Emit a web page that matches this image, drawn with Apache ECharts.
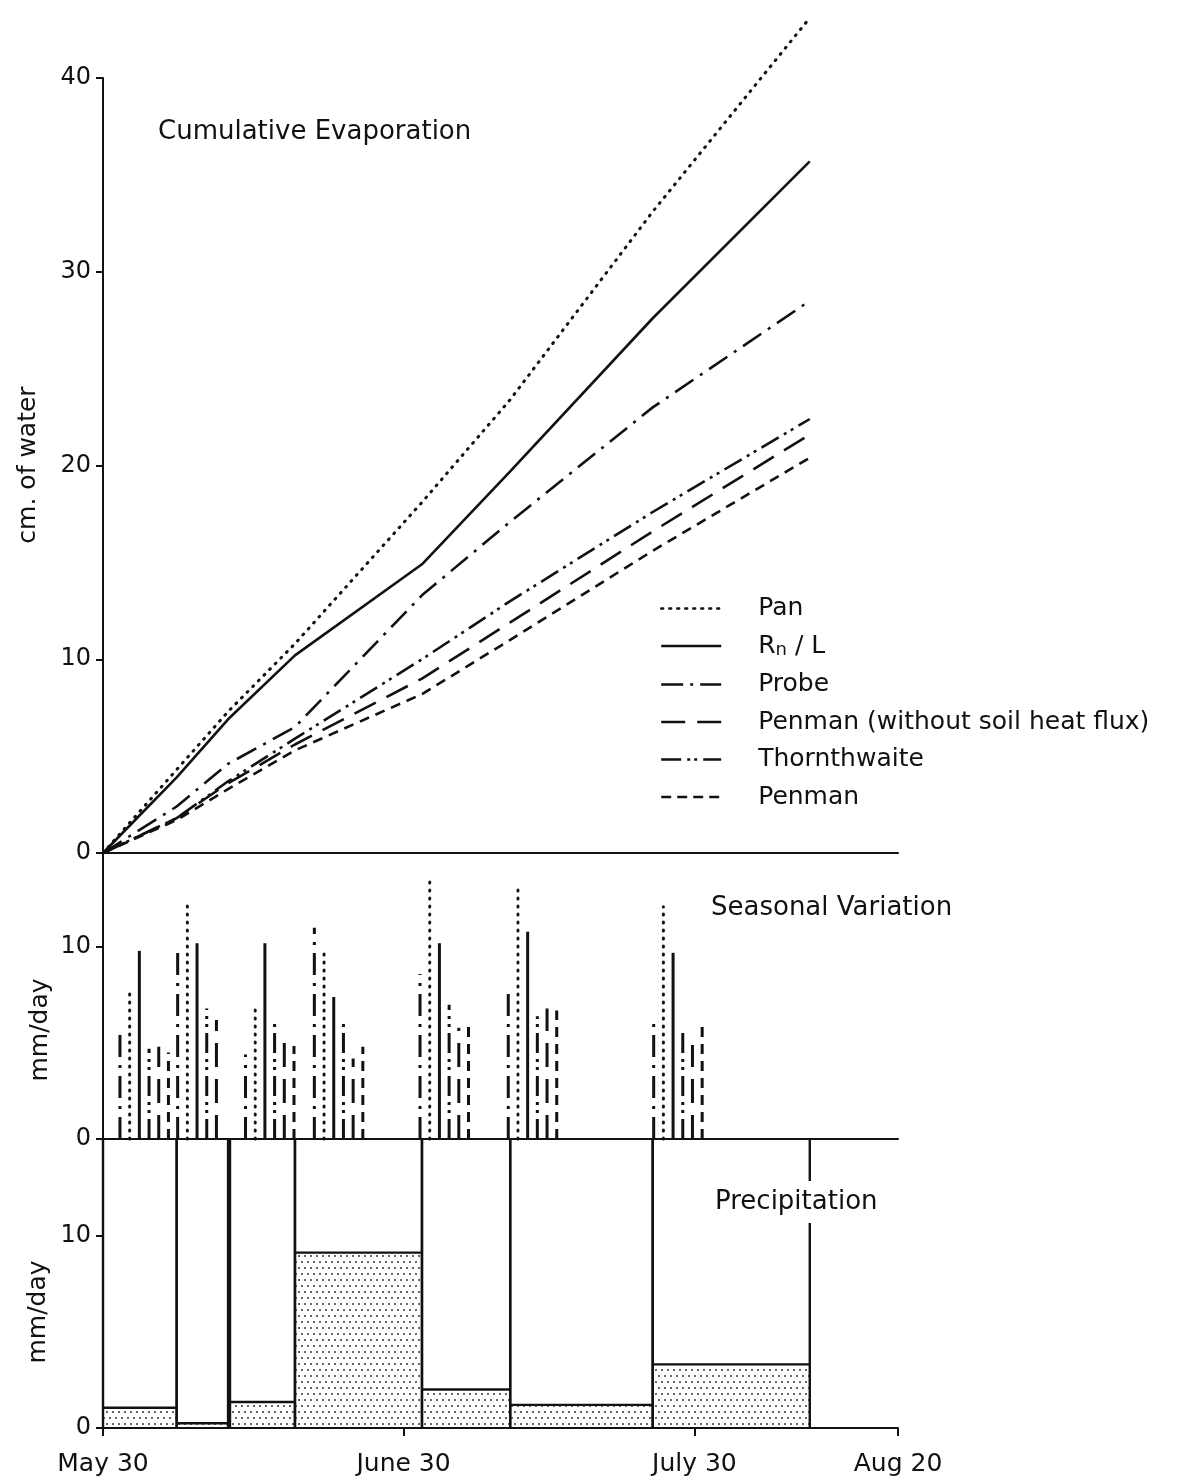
<!DOCTYPE html>
<html>
<head>
<meta charset="utf-8">
<title>Cumulative Evaporation</title>
<script src="https://cdn.jsdelivr.net/npm/echarts@6/dist/echarts.min.js"></script>
<style>
  html, body { margin: 0; padding: 0; background: #fff; }
  #chart { width: 1202px; height: 1482px; }
</style>
</head>
<body>
<div id="chart"></div>
<script>
// x is counted in days from May 30
const dateTicks = [0, 31, 61, 82]
const dateLabels = ['May 30', 'June 30', 'July 30', 'Aug 20']

// period boundaries (days)
const periodDays = [0, 7.6, 12.9, 19.8, 32.9, 42, 56.7, 72.9]

// cumulative evaporation, cm of water
const panCum = [0, 4.3, 7.3, 10.8, 18.1, 23.4, 33.1, 43.1]
const rnCum = [0, 3.9, 6.9, 10.2, 14.9, 19.7, 27.6, 35.7]
const probeCum = [0, 2.4, 4.6, 6.5, 13.3, 17.1, 23.0, 28.5]
const penmanWCum = [0, 1.8, 3.6, 5.6, 9.0, 11.9, 16.6, 21.6]
const thornCum = [0, 1.8, 3.7, 5.9, 10.0, 13.0, 17.6, 22.4]
const penmanCum = [0, 1.7, 3.3, 5.3, 8.2, 11.0, 15.6, 20.4]

// seasonal variation, mm/day - one bar per method per period
const barDays = [1.75, 7.7, 14.7, 21.8, 32.7, 41.8, 56.8]
const probeDaily = [5.8, 9.7, 4.4, 11.0, 8.6, 7.9, 6.0]
const panDaily = [7.8, 12.4, 7.0, 9.95, 13.5, 13.0, 12.1]
const rnDaily = [9.8, 10.2, 10.2, 7.4, 10.2, 10.8, 9.7]
const thornDaily = [4.7, 6.8, 6.0, 6.0, 7.0, 6.4, 5.8]
const penmanWDaily = [4.8, 6.2, 5.4, 4.2, 5.8, 6.8, 4.9]
const penmanDaily = [4.5, null, 4.85, 4.8, 6.0, 6.7, 6.1]

// precipitation, mm/day
const precipStart = [0, 7.6, 13.1, 19.8, 32.9, 42, 56.7]
const precipEnd = [7.6, 12.9, 19.8, 32.9, 42, 56.7, 72.9]
const precip = [1.05, 0.25, 1.35, 9.1, 2.0, 1.2, 3.3]

const FONT = "'DejaVu Sans', sans-serif"
const INK = '#111'

// slot = position of the bar inside a cluster (1 slot = 1 day)
// key = dash used for the short legend sample
const methods = [
  { name: 'Pan', cum: panCum, daily: panDaily, dash: [1, 7], key: [2, 6], width: 3, cap: 'round', slot: 1 },
  { name: 'Rn/L', cum: rnCum, daily: rnDaily, dash: 'solid', key: 'solid', width: 2.6, cap: 'butt', slot: 2 },
  { name: 'Probe', cum: probeCum, daily: probeDaily, dash: [22, 8, 3, 8], key: [22, 7, 3, 7], width: 2.6, cap: 'butt', slot: 0 },
  { name: 'Penman (without soil heat flux)', cum: penmanWCum, daily: penmanWDaily, dash: [24, 12], key: [24, 12], width: 2.6, cap: 'butt', slot: 4 },
  { name: 'Thornthwaite', cum: thornCum, daily: thornDaily, dash: [20, 6, 3, 5, 3, 6], key: [20, 6, 3, 4, 3, 6], width: 2.6, cap: 'butt', slot: 3 },
  { name: 'Penman', cum: penmanCum, daily: penmanDaily, dash: [10, 7], key: [10, 6], width: 2.6, cap: 'butt', slot: 5 }
]

// stipple pattern for the rain boxes
const tile = document.createElement('canvas')
tile.width = 12
tile.height = 12
const tctx = tile.getContext('2d')
tctx.fillStyle = '#222'
;[[2, 2], [8, 2], [5, 8], [11, 8]].forEach(p => {
  tctx.beginPath()
  tctx.arc(p[0], p[1], 0.95, 0, Math.PI * 2)
  tctx.fill()
})
const stipple = { image: tile, repeat: 'repeat' }

const axisLineStyle = { color: INK, width: 2 }
const labelStyle = { color: INK, fontFamily: FONT, fontSize: 24 }

function xAxisFor (idx, withLabels) {
  return {
    gridIndex: idx,
    type: 'value',
    min: 0,
    max: 82,
    axisLine: { show: true, onZero: false, lineStyle: axisLineStyle },
    axisTick: withLabels
      ? { show: true, length: 8, customValues: dateTicks, lineStyle: axisLineStyle }
      : { show: false },
    axisLabel: withLabels
      ? Object.assign({ customValues: dateTicks, margin: 24, formatter: v => dateLabels[dateTicks.indexOf(v)] }, labelStyle, { fontSize: 25 })
      : { show: false },
    splitLine: { show: false }
  }
}

function yAxisFor (idx, max, ticks) {
  return {
    gridIndex: idx,
    type: 'value',
    min: 0,
    max: max,
    axisLine: { show: true, onZero: false, lineStyle: axisLineStyle },
    axisTick: { show: true, length: 7, customValues: ticks, lineStyle: axisLineStyle },
    axisLabel: Object.assign({ customValues: ticks, margin: 12 }, labelStyle),
    splitLine: { show: false }
  }
}

const lineSeries = methods.map(m => ({
  type: 'line',
  name: m.name,
  xAxisIndex: 0,
  yAxisIndex: 0,
  data: periodDays.map((d, i) => [d, m.cum[i]]),
  symbol: 'none',
  clip: false,
  silent: true,
  itemStyle: { color: INK },
  lineStyle: { color: INK, width: m.width, type: m.dash, cap: m.cap }
}))

const barSeries = methods.map(m => ({
  type: 'custom',
  name: m.name,
  xAxisIndex: 1,
  yAxisIndex: 1,
  silent: true,
  data: barDays.map((d, i) => [d + m.slot, m.daily[i]]).filter(p => p[1] != null),
  renderItem: function (params, api) {
    const p0 = api.coord([api.value(0), 0])
    const p1 = api.coord([api.value(0), api.value(1)])
    return {
      type: 'line',
      shape: { x1: p0[0], y1: p0[1], x2: p1[0], y2: p1[1] },
      style: {
        stroke: INK,
        lineWidth: 3,
        lineDash: m.dash === 'solid' ? null : m.dash,
        lineCap: m.cap
      }
    }
  }
}))

const rainSeries = {
  type: 'custom',
  name: 'Precipitation',
  xAxisIndex: 2,
  yAxisIndex: 2,
  silent: true,
  data: precip.map((v, i) => [precipStart[i], precipEnd[i], v]),
  renderItem: function (params, api) {
    const p0 = api.coord([api.value(0), 0])
    const p1 = api.coord([api.value(1), api.value(2)])
    const top = params.coordSys.y
    const edge = { stroke: INK, lineWidth: 2.4 }
    return {
      type: 'group',
      children: [
        { type: 'rect', shape: { x: p0[0], y: p1[1], width: p1[0] - p0[0], height: p0[1] - p1[1] }, style: { fill: stipple } },
        { type: 'line', shape: { x1: p0[0], y1: p1[1], x2: p1[0], y2: p1[1] }, style: edge },
        { type: 'line', shape: { x1: p0[0], y1: top, x2: p0[0], y2: p0[1] }, style: edge },
        { type: 'line', shape: { x1: p1[0], y1: top, x2: p1[0], y2: p0[1] }, style: edge }
      ]
    }
  }
}

const titleStyle = { color: INK, fontFamily: FONT, fontSize: 26, fontWeight: 'normal' }

const option = {
  backgroundColor: '#fff',
  animation: false,
  grid: [
    { left: 103, right: 304, top: 78, height: 775 },
    { left: 103, right: 304, top: 853, height: 286 },
    { left: 103, right: 304, top: 1139, height: 289 }
  ],
  xAxis: [xAxisFor(0, false), xAxisFor(1, false), xAxisFor(2, true)],
  yAxis: [
    yAxisFor(0, 40, [0, 10, 20, 30, 40]),
    yAxisFor(1, 14.9, [0, 10]),
    yAxisFor(2, 15, [0, 10])
  ],
  title: [
    { text: 'Cumulative Evaporation', left: 158, top: 119, padding: 0, textStyle: titleStyle },
    { text: 'Seasonal Variation', left: 711, top: 895, padding: 0, textStyle: titleStyle },
    { text: 'Precipitation', left: 709, top: 1181, padding: [8, 6], backgroundColor: '#fff', textStyle: titleStyle }
  ],
  legend: {
    orient: 'vertical',
    left: 655,
    top: 591,
    itemWidth: 60,
    itemHeight: 14,
    itemGap: 12.5,
    selectedMode: false,
    itemStyle: { color: 'rgba(0,0,0,0)', borderColor: 'rgba(0,0,0,0)', borderWidth: 0 },
    data: methods.map(m => ({
      name: m.name,
      lineStyle: { color: INK, width: 2.4, type: m.key }
    })),
    formatter: name => name === 'Rn/L' ? '{t|R}{s|n}{t| / L}' : '{t|' + name + '}',
    textStyle: {
      padding: [0, 0, 0, 32],
      rich: {
        t: { color: INK, fontFamily: FONT, fontSize: 25 },
        s: { color: INK, fontFamily: FONT, fontSize: 18, padding: [9, 0, 0, 0] }
      }
    }
  },
  graphic: [
    { type: 'text', x: 28, y: 465, rotation: Math.PI / 2, style: { text: 'cm. of water', fill: INK, font: '25px ' + FONT, textAlign: 'center', textVerticalAlign: 'middle' } },
    { type: 'text', x: 40, y: 1030, rotation: Math.PI / 2, style: { text: 'mm/day', fill: INK, font: '25px ' + FONT, textAlign: 'center', textVerticalAlign: 'middle' } },
    { type: 'text', x: 38, y: 1312, rotation: Math.PI / 2, style: { text: 'mm/day', fill: INK, font: '25px ' + FONT, textAlign: 'center', textVerticalAlign: 'middle' } }
  ],
  series: lineSeries.concat(barSeries, [rainSeries])
}

const chart = echarts.init(document.getElementById('chart'), null, { renderer: 'canvas' })
chart.setOption(option)
</script>
</body>
</html>
